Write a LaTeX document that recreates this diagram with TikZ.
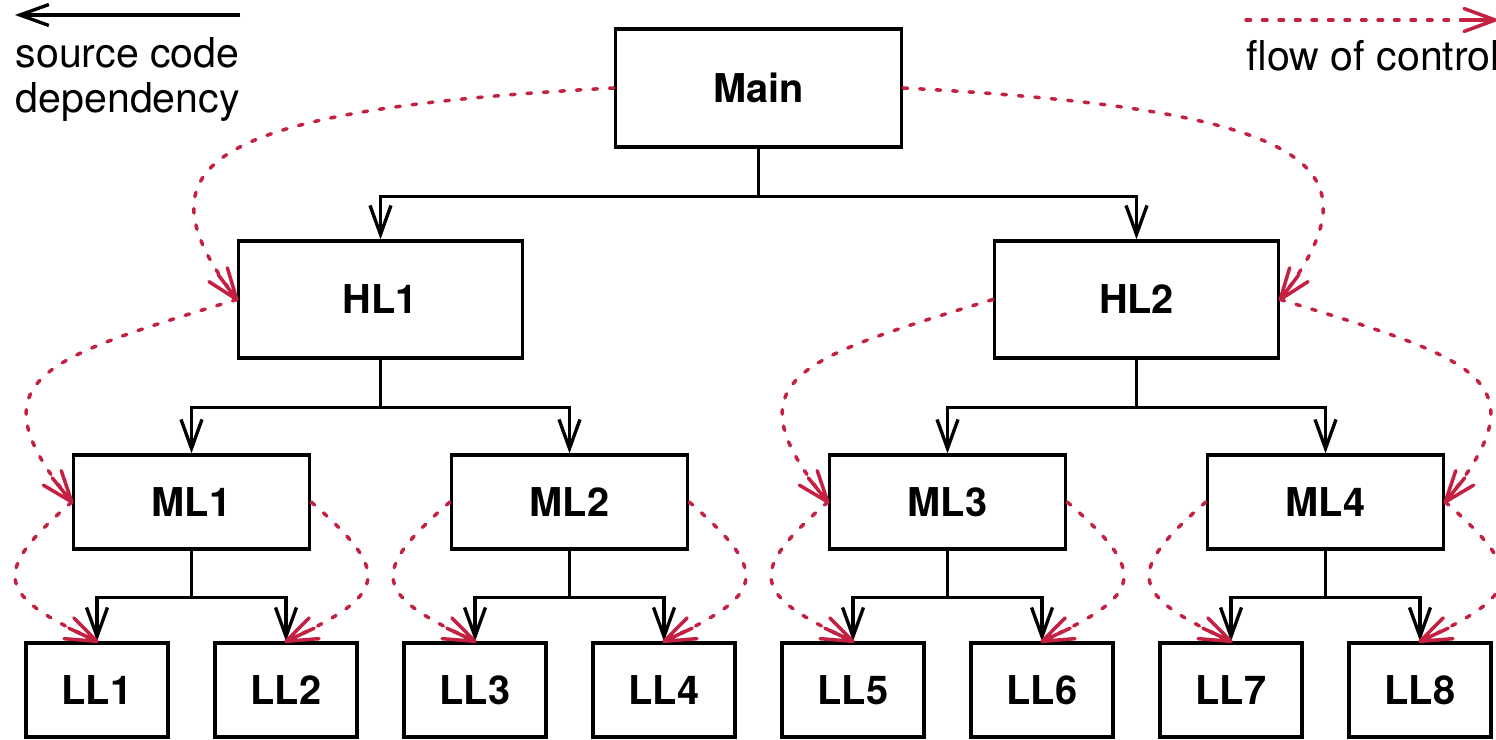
\documentclass[tikz,border=0pt]{standalone}
\usepackage{fontspec}
\setmainfont{TeX Gyre Heros}
\usetikzlibrary{arrows.meta}
\definecolor{flowred}{RGB}{196,32,66}

% open tip with a middle stroke
\pgfdeclarearrow{
  name=FlowBarb,
  parameters={\the\pgfarrowlength,\the\pgfarrowwidth},
  setup code={
    \pgfarrowssettipend{0pt}
    \pgfarrowssetlineend{-1pt}
    \pgfarrowssetbackend{-\pgfarrowlength}
    \pgfarrowssavethe\pgfarrowlength
    \pgfarrowssavethe\pgfarrowwidth
  },
  drawing code={
    \pgfsetdash{}{0pt}
    \pgfsetroundcap
    \pgfsetroundjoin
    \pgfpathmoveto{\pgfpoint{-\pgfarrowlength}{0.5\pgfarrowwidth}}
    \pgfpathlineto{\pgfpointorigin}
    \pgfpathlineto{\pgfpoint{-\pgfarrowlength}{-0.5\pgfarrowwidth}}
    \pgfpathmoveto{\pgfpoint{-\pgfarrowlength}{0pt}}
    \pgfpathlineto{\pgfpointorigin}
    \pgfusepathqstroke
  },
  defaults={length=3mm,width=2.2mm}
}

\tikzset{
  blk/.style={draw, line width=0.95pt, inner sep=0pt, font=\fontsize{11.3}{13}\selectfont\bfseries},
  mainblk/.style={blk, minimum width=2.86cm, minimum height=1.18cm},
  hlblk/.style={blk, minimum width=2.84cm, minimum height=1.17cm},
  mlblk/.style={blk, minimum width=2.36cm, minimum height=0.94cm},
  llblk/.style={blk, minimum width=1.42cm, minimum height=0.94cm},
  depline/.style={line width=0.95pt, -{Straight Barb[length=2.9mm,width=2.1mm]}},
  flowline/.style={flowred, line width=1pt, line cap=round, dash pattern=on 0.45mm off 1.2mm,
    -{FlowBarb[length=3.1mm,width=2.3mm]}},
  legtxt/.style={inner sep=0pt, font=\fontsize{11.7}{13}\selectfont}
}

\begin{document}
\begin{tikzpicture}
\useasboundingbox (0,0) rectangle (14.96,-7.39);
% boxes
\node[mainblk] (main) at (7.585,-0.88) {Main};
\node[hlblk] (hl1) at (3.805,-2.995) {HL1};
\node[hlblk] (hl2) at (11.365,-2.995) {HL2};
\node[mlblk] (ml1) at (1.915,-5.02) {ML1};
\node[mlblk] (ml2) at (5.695,-5.02) {ML2};
\node[mlblk] (ml3) at (9.475,-5.02) {ML3};
\node[mlblk] (ml4) at (13.255,-5.02) {ML4};
\foreach \i/\x in {1/0.97,2/2.86,3/4.75,4/6.64,5/8.53,6/10.42,7/12.31,8/14.20}
  \node[llblk] (ll\i) at (\x,-6.90) {LL\i};

% source code dependencies
\draw[depline] (main.south) -- ++(0,-0.475) -| (hl1.north);
\draw[depline] (main.south) -- ++(0,-0.475) -| (hl2.north);
\draw[depline] (hl1.south) -- ++(0,-0.475) -| (ml1.north);
\draw[depline] (hl1.south) -- ++(0,-0.475) -| (ml2.north);
\draw[depline] (hl2.south) -- ++(0,-0.475) -| (ml3.north);
\draw[depline] (hl2.south) -- ++(0,-0.475) -| (ml4.north);
\draw[depline] (ml1.south) -- ++(0,-0.47) -| (ll1.north);
\draw[depline] (ml1.south) -- ++(0,-0.47) -| (ll2.north);
\draw[depline] (ml2.south) -- ++(0,-0.47) -| (ll3.north);
\draw[depline] (ml2.south) -- ++(0,-0.47) -| (ll4.north);
\draw[depline] (ml3.south) -- ++(0,-0.47) -| (ll5.north);
\draw[depline] (ml3.south) -- ++(0,-0.47) -| (ll6.north);
\draw[depline] (ml4.south) -- ++(0,-0.47) -| (ll7.north);
\draw[depline] (ml4.south) -- ++(0,-0.47) -| (ll8.north);

% flow of control
\draw[flowline] (main.west) to[out=183,in=127,out distance=4.2cm,in distance=1.65cm] (hl1.west);
\draw[flowline] (main.east) to[out=-3,in=53,out distance=4.2cm,in distance=1.65cm] (hl2.east);
\draw[flowline] (hl1.west) to[out=197,in=129,out distance=2cm,in distance=1.6cm] (ml1.west);
\draw[flowline] (hl2.west) to[out=197,in=129,out distance=2cm,in distance=1.6cm] (ml3.west);
\draw[flowline] (hl2.east) to[out=-17,in=51,out distance=2cm,in distance=1.6cm] (ml4.east);
\draw[flowline] (ml1.west) to[out=221,in=155,out distance=1.1cm,in distance=1.1cm] (ll1.north);
\draw[flowline] (ml1.east) to[out=-41,in=25,out distance=1.1cm,in distance=1.1cm] (ll2.north);
\draw[flowline] (ml2.west) to[out=221,in=155,out distance=1.1cm,in distance=1.1cm] (ll3.north);
\draw[flowline] (ml2.east) to[out=-41,in=25,out distance=1.1cm,in distance=1.1cm] (ll4.north);
\draw[flowline] (ml3.west) to[out=221,in=155,out distance=1.1cm,in distance=1.1cm] (ll5.north);
\draw[flowline] (ml3.east) to[out=-41,in=25,out distance=1.1cm,in distance=1.1cm] (ll6.north);
\draw[flowline] (ml4.west) to[out=221,in=155,out distance=1.1cm,in distance=1.1cm] (ll7.north);
\draw[flowline] (ml4.east) to[out=-41,in=25,out distance=1.1cm,in distance=1.1cm] (ll8.north);

% legend
\coordinate (depfrom) at (2.40,-0.15);
\coordinate (depto) at (0.15,-0.15);
\draw[depline] (depfrom) -- (depto);
\node[legtxt, anchor=base west] (deptxt1) at (0.15,-0.67) {source code};
\node[legtxt, anchor=base west] (deptxt2) at (0.15,-1.12) {dependency};
\coordinate (flowfrom) at (12.46,-0.20);
\coordinate (flowto) at (14.95,-0.20);
\draw[flowline] (flowfrom) -- (flowto);
\node[legtxt, anchor=base west] (flowtxt) at (12.46,-0.70) {flow of control};
\end{tikzpicture}
\end{document}
